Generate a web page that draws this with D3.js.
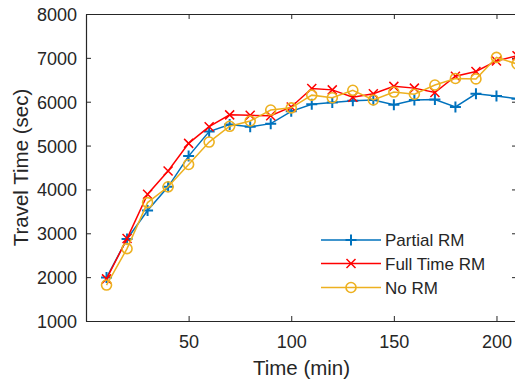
<!DOCTYPE html>
<html>
<head>
<meta charset="utf-8">
<script src="https://cdn.jsdelivr.net/npm/d3@7"></script>
<style>
  body { margin: 0; background: #fff; }
  text { font-family: "Liberation Sans", Arial, sans-serif; fill: #262626; }
</style>
</head>
<body>
<div class="canvas"></div>
<script>
const times = [10, 20, 30, 40, 50, 60, 70, 80, 90, 100, 110, 120, 130, 140, 150, 160, 170, 180, 190, 200, 210];
const partialRM = [1990, 2870, 3520, 4060, 4760, 5320, 5480, 5430, 5500, 5780, 5940, 5980, 6020, 6040, 5930, 6040, 6050, 5880, 6180, 6130, 6070];
const fullTimeRM = [1960, 2880, 3890, 4420, 5050, 5430, 5700, 5690, 5680, 5880, 6300, 6270, 6100, 6180, 6350, 6310, 6210, 6580, 6690, 6930, 7050];
const noRM = [1820, 2650, 3700, 4060, 4570, 5080, 5440, 5560, 5810, 5860, 6150, 6090, 6260, 6040, 6220, 6170, 6380, 6530, 6520, 7010, 6860];
const xTicks = [50, 100, 150, 200];
const yTicks = [1000, 2000, 3000, 4000, 5000, 6000, 7000, 8000];

const series = [
  { name: 'Partial RM', values: partialRM, color: '#0072BD', marker: 'plus' },
  { name: 'Full Time RM', values: fullTimeRM, color: '#FF0000', marker: 'cross' },
  { name: 'No RM', values: noRM, color: '#EDB120', marker: 'circle' }
];

const dims = { width: 515, height: 383 };
const plot = { left: 86, right: 517, top: 14, bottom: 321 };

const svg = d3.select('.canvas')
  .append('svg')
  .attr('width', dims.width)
  .attr('height', dims.height);

const x = d3.scaleLinear().domain([0, 210]).range([plot.left, plot.right]);
const y = d3.scaleLinear().domain([1000, 8000]).range([plot.bottom, plot.top]);

// box with inward ticks on all four sides
const tickLen = 5;
const axisG = svg.append('g');

const xAxis = d3.axisBottom(x).tickValues(xTicks).tickFormat(d3.format('d'))
  .tickSizeInner(-tickLen).tickSizeOuter(0).tickPadding(14);
const yAxis = d3.axisLeft(y).tickValues(yTicks).tickFormat(d3.format('d'))
  .tickSizeInner(-tickLen).tickSizeOuter(0).tickPadding(9);

const gx = axisG.append('g').attr('transform', `translate(0,${plot.bottom})`).call(xAxis);
const gy = axisG.append('g').attr('transform', `translate(${plot.left},0)`).call(yAxis);
const gxTop = axisG.append('g').attr('transform', `translate(0,${plot.top})`)
  .call(d3.axisTop(x).tickValues(xTicks).tickSizeInner(-tickLen).tickSizeOuter(0).tickFormat(''));
const gyRight = axisG.append('g').attr('transform', `translate(${plot.right},0)`)
  .call(d3.axisRight(y).tickValues(yTicks).tickSizeInner(-tickLen).tickSizeOuter(0).tickFormat(''));

[gx, gy, gxTop, gyRight].forEach(g => {
  g.select('.domain').attr('stroke', '#262626').attr('stroke-width', 1.2);
  g.selectAll('.tick line').attr('stroke', '#262626').attr('stroke-width', 1);
});
gx.selectAll('.tick text').attr('font-size', 18).attr('fill', '#262626');
gy.selectAll('.tick text').attr('font-size', 18).attr('fill', '#262626').attr('dy', '0.36em');

// axis titles
svg.append('text')
  .attr('x', (plot.left + plot.right) / 2)
  .attr('y', 375)
  .attr('text-anchor', 'middle')
  .attr('font-size', 20.5)
  .text('Time (min)');

svg.append('text')
  .attr('transform', `translate(28,${(plot.top + plot.bottom) / 2}) rotate(-90)`)
  .attr('text-anchor', 'middle')
  .attr('font-size', 20.5)
  .text('Travel Time (sec)');

// markers
const drawMarker = (g, type, color) => {
  if (type === 'plus') {
    g.append('path').attr('d', 'M-5.5,0H5.5M0,-5.5V5.5')
      .attr('stroke', color).attr('stroke-width', 2).attr('fill', 'none');
  } else if (type === 'cross') {
    g.append('path').attr('d', 'M-4.5,-4.5L4.5,4.5M-4.5,4.5L4.5,-4.5')
      .attr('stroke', color).attr('stroke-width', 1.5).attr('fill', 'none');
  } else {
    g.append('circle').attr('r', 5)
      .attr('stroke', color).attr('stroke-width', 1.6).attr('fill', 'none');
  }
};

const line = d3.line()
  .x((d, i) => x(times[i]))
  .y(d => y(d));

const dataG = svg.append('g');

series.forEach(s => {
  dataG.append('path')
    .datum(s.values)
    .attr('d', line)
    .attr('fill', 'none')
    .attr('stroke', s.color)
    .attr('stroke-width', 1.5);

  dataG.selectAll(null)
    .data(s.values)
    .enter()
    .append('g')
    .attr('transform', (d, i) => `translate(${x(times[i])},${y(d)})`)
    .each(function(){ drawMarker(d3.select(this), s.marker, s.color); });
});

// legend
const legend = svg.append('g');
const legendRows = [240, 263.5, 287.5];
series.forEach((s, i) => {
  const row = legend.append('g').attr('transform', `translate(0,${legendRows[i]})`);
  row.append('line')
    .attr('x1', 321).attr('x2', 381)
    .attr('stroke', s.color).attr('stroke-width', 1.5);
  drawMarker(row.append('g').attr('transform', 'translate(351,0)'), s.marker, s.color);
  row.append('text')
    .attr('x', 385)
    .attr('dy', '0.36em')
    .attr('font-size', 17)
    .text(s.name);
});
</script>
</body>
</html>
